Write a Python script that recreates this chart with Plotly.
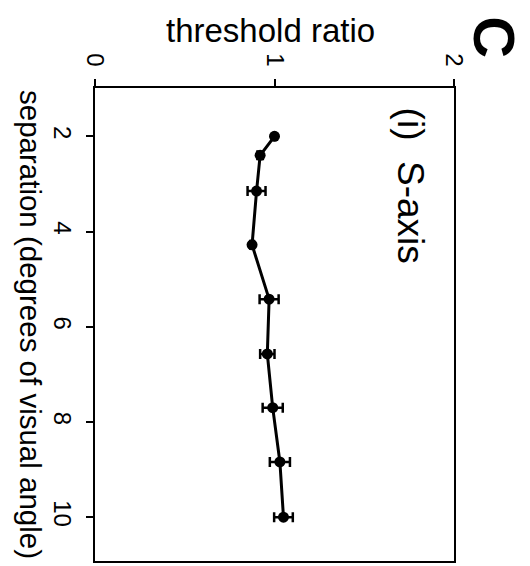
import plotly.graph_objects as go

# data
separation = [2.0, 2.4, 3.15, 4.28, 5.42, 6.57, 7.7, 8.84, 10.0]
threshold_ratio = [1.0, 0.92, 0.90, 0.875, 0.97, 0.96, 0.99, 1.03, 1.05]
ratio_err = [0.0, 0.015, 0.05, 0.01, 0.053, 0.04, 0.056, 0.056, 0.052]
ratio_ticks = [0, 1, 2]
sep_ticks = [2, 4, 6, 8, 10]

OFF = 8  # default page body margin
W, H = 530 - OFF, 566 - OFF
L, R, T, B = 95 - OFF, 454 - OFF, 88 - OFF, 563 - OFF
FONT = "Liberation Sans, Arial, sans-serif"

def px(x):
    return (x - OFF - L) / (R - L)

def py(y):
    return (B - (y - OFF)) / (B - T)

fig = go.Figure()
fig.add_trace(go.Scatter(
    x=threshold_ratio, y=separation, mode="lines+markers",
    line=dict(color="black", width=3),
    marker=dict(color="black", size=11, symbol="circle"),
    error_x=dict(type="data", array=ratio_err, visible=True,
                 color="black", thickness=2.5, width=5),
    showlegend=False,
))

fig.update_layout(
    width=W, height=H,
    margin=dict(l=L, r=W - R, t=T, b=H - B, pad=0),
    paper_bgcolor="white", plot_bgcolor="white",
    font=dict(family=FONT, color="black"),
    xaxis=dict(
        range=[0, 2], side="top", tickvals=ratio_ticks,
        ticktext=[str(v) for v in ratio_ticks],
        tickangle=90, ticks="outside", ticklen=7, tickwidth=2,
        tickcolor="black", showline=True, linecolor="black", linewidth=2,
        mirror=True, showgrid=False, zeroline=False,
        tickfont=dict(size=24, family=FONT), ticklabelstandoff=4,
    ),
    yaxis=dict(
        range=[10.92, 0.985], tickvals=sep_ticks,
        ticktext=[str(v) for v in sep_ticks],
        tickangle=90, ticks="outside", ticklen=7, tickwidth=2,
        tickcolor="black", showline=True, linecolor="black", linewidth=2,
        mirror=True, showgrid=False, zeroline=False,
        tickfont=dict(size=24, family=FONT), ticklabelstandoff=3,
    ),
)

annos = [
    dict(text="threshold ratio", x=px(270), y=py(30), size=33, angle=0),
    dict(text="separation (degrees of visual angle)", x=px(31), y=py(325), size=29.5, angle=90),
    dict(text="<b>C</b>", x=px(495), y=py(37), size=58, angle=90),
    dict(text="(i)  S-axis", x=px(410), y=py(186), size=37, angle=90),
]
for a in annos:
    fig.add_annotation(
        text=a["text"], x=a["x"], y=a["y"], xref="paper", yref="paper",
        xanchor="center", yanchor="middle", showarrow=False,
        textangle=a["angle"], font=dict(size=a["size"], family=FONT, color="black"),
    )

fig.write_html("out.html")
